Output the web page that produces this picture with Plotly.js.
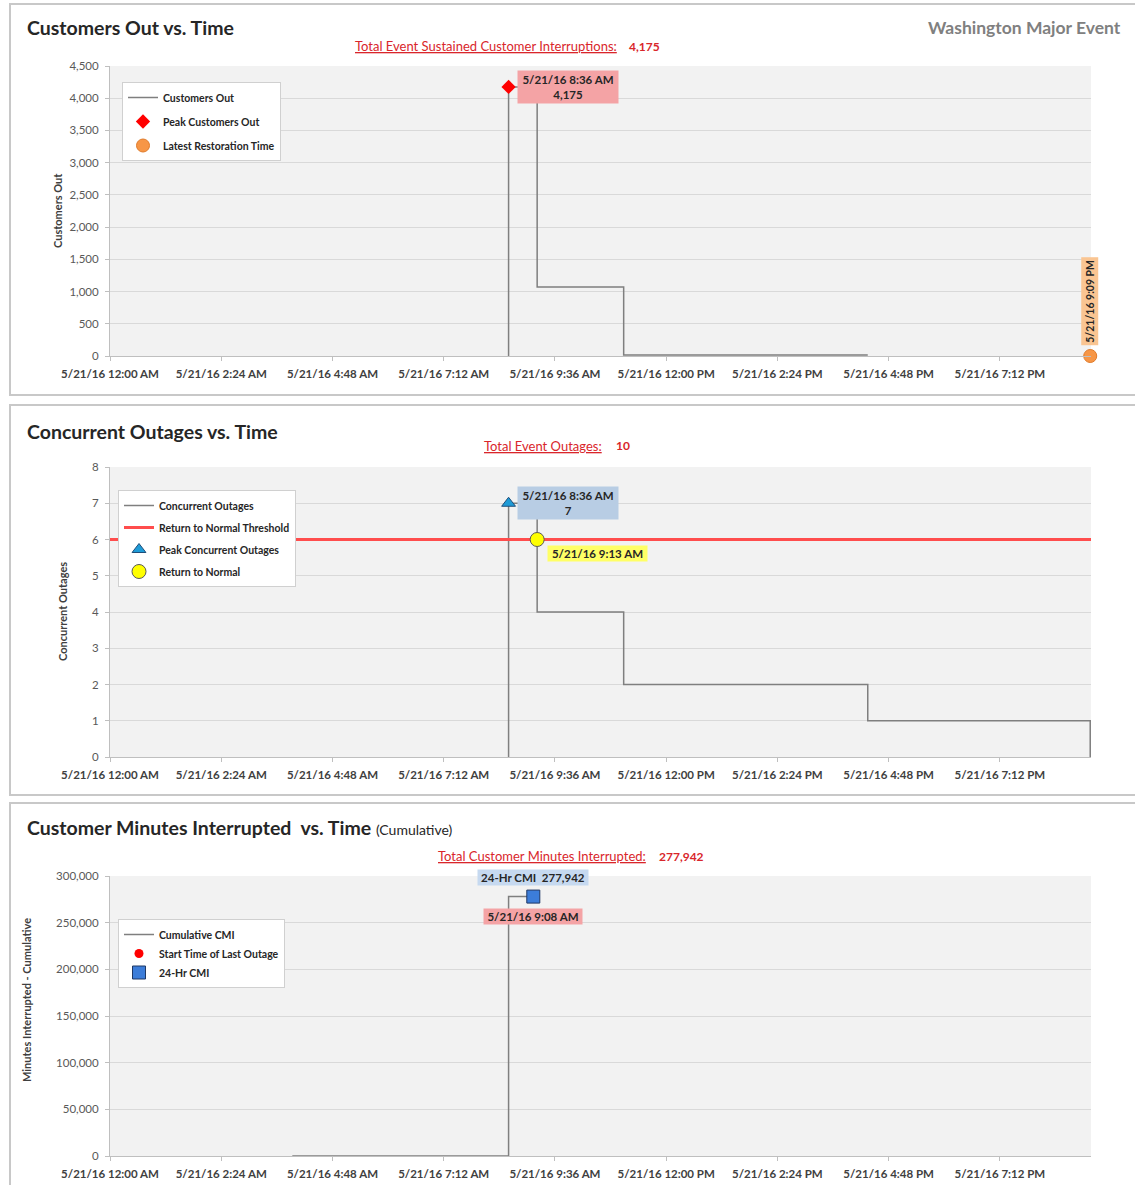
<!DOCTYPE html>
<html>
<head>
<meta charset="utf-8">
<script src="https://cdn.plot.ly/plotly-3.0.1.min.js"></script>
<style>
  html, body { margin: 0; padding: 0; background: #ffffff; }
  #chart { width: 1135px; height: 1185px; }
</style>
</head>
<body>
<div id="chart"></div>
<script>
// ---------------- DATA ----------------
const axisStart = '2016-05-21 00:00';
const axisEnd = '2016-05-21 21:10';
const tickVals = ['2016-05-21 00:00', '2016-05-21 02:24', '2016-05-21 04:48', '2016-05-21 07:12',
                  '2016-05-21 09:36', '2016-05-21 12:00', '2016-05-21 14:24', '2016-05-21 16:48',
                  '2016-05-21 19:12'];
const tickText = ['5/21/16 12:00 AM', '5/21/16 2:24 AM', '5/21/16 4:48 AM', '5/21/16 7:12 AM',
                  '5/21/16 9:36 AM', '5/21/16 12:00 PM', '5/21/16 2:24 PM', '5/21/16 4:48 PM',
                  '5/21/16 7:12 PM'];

// Panel 1: Customers Out
const custTimes = ['2016-05-21 08:36', '2016-05-21 08:36', '2016-05-21 09:13', '2016-05-21 11:05', '2016-05-21 16:21'];
const custOut = [0, 4175, 1070, 15, 15];
const peakCustTime = ['2016-05-21 08:36'];
const peakCustValue = [4175];
const latestRestTime = ['2016-05-21 21:09'];
const latestRestValue = [0];
const totalInterruptions = '4,175';

// Panel 2: Concurrent Outages
const concTimes = ['2016-05-21 08:36', '2016-05-21 08:36', '2016-05-21 09:13', '2016-05-21 11:05', '2016-05-21 16:21', '2016-05-21 21:09'];
const concOut = [0, 7, 4, 2, 1, 0];
const thresholdTimes = ['2016-05-21 00:00', '2016-05-21 21:10'];
const thresholdValue = [6, 6];
const peakConcTime = ['2016-05-21 08:36'];
const peakConcValue = [7];
const returnNormalTime = ['2016-05-21 09:13'];
const returnNormalValue = [6];
const totalOutages = '10';

// Panel 3: Cumulative CMI
const cmiTimes = ['2016-05-21 03:56', '2016-05-21 08:36', '2016-05-21 08:36', '2016-05-21 09:08'];
const cmiValues = [0, 0, 277942, 277942];
const lastOutageTime = ['2016-05-21 09:08'];
const lastOutageValue = [277942];
const cmi24Time = ['2016-05-21 09:08'];
const cmi24Value = [277942];
const totalCMI = '277,942';

// ---------------- STYLE / LAYOUT ----------------
const W = 1135, H = 1185;
const FONT = 'Lato, "Liberation Sans", sans-serif';
const px = v => v / W;
const py = v => 1 - v / H;

const xDom = [px(110), px(1091)];
const dom1 = [py(356), py(66)];
const dom2 = [py(757), py(467)];
const dom3 = [py(1156), py(876)];

const lineGrey = '#7f7f7f';

function xAxis(domain, anchor) {
  return {
    type: 'date', range: [axisStart, axisEnd], domain: domain, anchor: anchor,
    tickmode: 'array', tickvals: tickVals, ticktext: tickText,
    tickfont: { family: FONT, size: 11.5, color: '#404040', weight: 700 },
    showgrid: false, zeroline: false, showline: true, linecolor: '#bfbfbf', linewidth: 1,
    ticks: 'outside', ticklen: 4, tickcolor: '#bfbfbf', ticklabelstandoff: 3,
    fixedrange: true
  };
}
function yAxis(domain, anchor, range, dtick) {
  return {
    domain: domain, anchor: anchor, range: range, dtick: dtick, tick0: 0,
    tickformat: ',d',
    tickfont: { family: FONT, size: 11.5, color: '#595959' },
    showgrid: true, gridcolor: '#d9d9d9', gridwidth: 1,
    zeroline: false, showline: true, linecolor: '#bfbfbf', linewidth: 1,
    ticks: 'outside', ticklen: 4, tickcolor: '#bfbfbf', ticklabelstandoff: 4,
    fixedrange: true
  };
}

const traces = [
  // Panel 1
  { x: custTimes, y: custOut, type: 'scatter', mode: 'lines', name: 'Customers Out',
    line: { color: lineGrey, width: 1.5, shape: 'hv' }, xaxis: 'x', yaxis: 'y',
    legend: 'legend', legendgroup: 'a1' },
  { x: peakCustTime, y: peakCustValue, type: 'scatter', mode: 'markers', name: 'Peak Customers Out',
    marker: { color: '#ff0000', symbol: 'diamond', size: 11 }, cliponaxis: false,
    xaxis: 'x', yaxis: 'y', legend: 'legend', legendgroup: 'a2' },
  { x: latestRestTime, y: latestRestValue, type: 'scatter', mode: 'markers', name: 'Latest Restoration Time',
    marker: { color: '#f79646', symbol: 'circle', size: 13, line: { color: '#e07b2a', width: 1 } }, cliponaxis: false,
    xaxis: 'x', yaxis: 'y', legend: 'legend', legendgroup: 'a3' },

  // Panel 2
  { x: concTimes, y: concOut, type: 'scatter', mode: 'lines', name: 'Concurrent Outages',
    line: { color: lineGrey, width: 1.5, shape: 'hv' }, xaxis: 'x2', yaxis: 'y2',
    legend: 'legend2', legendgroup: 'b1' },
  { x: thresholdTimes, y: thresholdValue, type: 'scatter', mode: 'lines', name: 'Return to Normal Threshold',
    line: { color: '#ff4d4d', width: 3 }, xaxis: 'x2', yaxis: 'y2',
    legend: 'legend2', legendgroup: 'b2' },
  { x: peakConcTime, y: peakConcValue, type: 'scatter', mode: 'markers', name: 'Peak Concurrent Outages',
    marker: { color: '#1e9bd7', symbol: 'triangle-up', size: 12, line: { color: '#1f4e79', width: 1 } }, cliponaxis: false,
    xaxis: 'x2', yaxis: 'y2', legend: 'legend2', legendgroup: 'b3' },
  { x: returnNormalTime, y: returnNormalValue, type: 'scatter', mode: 'markers', name: 'Return to Normal',
    marker: { color: '#ffff00', symbol: 'circle', size: 14, line: { color: '#595959', width: 1 } }, cliponaxis: false,
    xaxis: 'x2', yaxis: 'y2', legend: 'legend2', legendgroup: 'b4' },

  // Panel 3
  { x: cmiTimes, y: cmiValues, type: 'scatter', mode: 'lines', name: 'Cumulative CMI',
    line: { color: lineGrey, width: 1.5, shape: 'hv' }, xaxis: 'x3', yaxis: 'y3',
    legend: 'legend3', legendgroup: 'c1' },
  { x: lastOutageTime, y: lastOutageValue, type: 'scatter', mode: 'markers', name: 'Start Time of Last Outage',
    marker: { color: '#ff0000', symbol: 'circle', size: 9 }, cliponaxis: false,
    xaxis: 'x3', yaxis: 'y3', legend: 'legend3', legendgroup: 'c2' },
  { x: cmi24Time, y: cmi24Value, type: 'scatter', mode: 'markers', name: '24-Hr CMI',
    marker: { color: '#3c7dd9', symbol: 'square', size: 13, line: { color: '#1f3864', width: 1 } }, cliponaxis: false,
    xaxis: 'x3', yaxis: 'y3', legend: 'legend3', legendgroup: 'c3' }
];

function legendBox(x, y, gap) {
  return {
    x: x, y: y, xref: 'paper', yref: 'paper', xanchor: 'left', yanchor: 'top',
    bgcolor: '#ffffff', bordercolor: '#d0d0d0', borderwidth: 1,
    font: { family: FONT, size: 10.5, color: '#262626', weight: 700 },
    traceorder: 'grouped', tracegroupgap: gap, itemwidth: 30
  };
}

const titleFont = { family: FONT, size: 19.5, color: '#262626', weight: 700 };
const redFont = { family: FONT, size: 13, color: '#d9262b' };
const redBold = { family: FONT, size: 12, color: '#d9262b', weight: 700 };
const boxFont = { family: FONT, size: 11.5, color: '#262626', weight: 700 };
const yTitleFont = { family: FONT, size: 11, color: '#404040', weight: 700 };

function pAnn(text, x, y, font, xanchor, extra) {
  return Object.assign({ text: text, x: px(x), y: py(y), xref: 'paper', yref: 'paper',
    xanchor: xanchor || 'left', yanchor: 'middle', showarrow: false, font: font }, extra || {});
}

const annotations = [
  // Titles
  pAnn('Customers Out vs. Time', 25, 28, titleFont),
  pAnn('Washington Major Event', 1123, 28, { family: FONT, size: 17.5, color: '#808080', weight: 700 }, 'right'),
  pAnn('Concurrent Outages vs. Time', 25, 431, titleFont),
  pAnn('Customer Minutes Interrupted  vs. Time <span style="font-size:14px;font-weight:400">(Cumulative)</span>', 25, 828, titleFont),

  // Totals
  pAnn('<u>Total Event Sustained Customer Interruptions:</u>', 619, 46, redFont, 'right'),
  pAnn(totalInterruptions, 627, 46, redBold),
  pAnn('<u>Total Event Outages:</u>', 604, 446, redFont, 'right'),
  pAnn(totalOutages, 614, 446, redBold),
  pAnn('<u>Total Customer Minutes Interrupted:</u>', 648, 856, redFont, 'right'),
  pAnn(totalCMI, 657, 856, redBold),

  // Y-axis titles
  pAnn('Customers Out', 57, 211, yTitleFont, 'center', { textangle: -90 }),
  pAnn('Concurrent Outages', 62, 612, yTitleFont, 'center', { textangle: -90 }),
  pAnn('Minutes Interrupted - Cumulative', 26, 1000, yTitleFont, 'center', { textangle: -90 }),

  // Data callouts
  { x: peakCustTime[0], y: peakCustValue[0], xref: 'x', yref: 'y', text: '5/21/16 8:36 AM<br>' + peakCustValue[0].toLocaleString('en-US'),
    showarrow: false, xanchor: 'left', yanchor: 'middle', xshift: 8, bgcolor: '#f4a3a5', borderpad: 2, width: 96,
    font: boxFont },
  { x: latestRestTime[0], y: latestRestValue[0], xref: 'x', yref: 'y', text: '5/21/16 9:09 PM',
    showarrow: false, xanchor: 'center', yanchor: 'bottom', yshift: 10, textangle: -90, bgcolor: '#fac592', borderpad: 2,
    font: { family: FONT, size: 10.5, color: '#262626', weight: 700 } },

  { x: peakConcTime[0], y: peakConcValue[0], xref: 'x2', yref: 'y2', text: '5/21/16 8:36 AM<br>' + peakConcValue[0],
    showarrow: false, xanchor: 'left', yanchor: 'middle', xshift: 8, bgcolor: '#b8cde4', borderpad: 2, width: 96,
    font: boxFont },
  { x: returnNormalTime[0], y: returnNormalValue[0], xref: 'x2', yref: 'y2', text: '5/21/16 9:13 AM',
    showarrow: false, xanchor: 'left', yanchor: 'middle', xshift: 10, yshift: -14, bgcolor: '#ffff66', borderpad: 1, width: 97,
    font: boxFont },

  { x: cmi24Time[0], y: cmi24Value[0], xref: 'x3', yref: 'y3', text: '24-Hr CMI  ' + cmi24Value[0].toLocaleString('en-US'),
    showarrow: false, xanchor: 'center', yanchor: 'middle', yshift: 19, bgcolor: '#c6d9f0', borderpad: 1, width: 108,
    font: boxFont },
  { x: lastOutageTime[0], y: lastOutageValue[0], xref: 'x3', yref: 'y3', text: '5/21/16 9:08 AM',
    showarrow: false, xanchor: 'center', yanchor: 'middle', yshift: -20, bgcolor: '#f4a3a5', borderpad: 1, width: 96,
    font: boxFont }
];

const frameLine = { color: '#c8c8c8', width: 2 };
const shapes = [
  { type: 'rect', xref: 'paper', yref: 'paper', x0: px(10), x1: 1.02, y0: py(395), y1: py(4), line: frameLine, fillcolor: 'rgba(0,0,0,0)', layer: 'below' },
  { type: 'rect', xref: 'paper', yref: 'paper', x0: px(10), x1: 1.02, y0: py(795), y1: py(405), line: frameLine, fillcolor: 'rgba(0,0,0,0)', layer: 'below' },
  { type: 'rect', xref: 'paper', yref: 'paper', x0: px(10), x1: 1.02, y0: -0.02, y1: py(803), line: frameLine, fillcolor: 'rgba(0,0,0,0)', layer: 'below' }
];

const layout = {
  width: W, height: H,
  margin: { l: 0, r: 0, t: 0, b: 0 },
  paper_bgcolor: '#ffffff', plot_bgcolor: '#f2f2f2',
  font: { family: FONT },
  showlegend: true,
  xaxis: xAxis(xDom, 'y'),
  yaxis: yAxis(dom1, 'x', [0, 4500], 500),
  xaxis2: xAxis(xDom, 'y2'),
  yaxis2: yAxis(dom2, 'x2', [0, 8], 1),
  xaxis3: xAxis(xDom, 'y3'),
  yaxis3: yAxis(dom3, 'x3', [0, 300000], 50000),
  legend: legendBox(px(122), py(82), 5),
  legend2: legendBox(px(118), py(490), 3),
  legend3: legendBox(px(118), py(919), 0),
  annotations: annotations,
  shapes: shapes
};

Plotly.newPlot('chart', traces, layout, { staticPlot: true, displayModeBar: false });
</script>
</body>
</html>
